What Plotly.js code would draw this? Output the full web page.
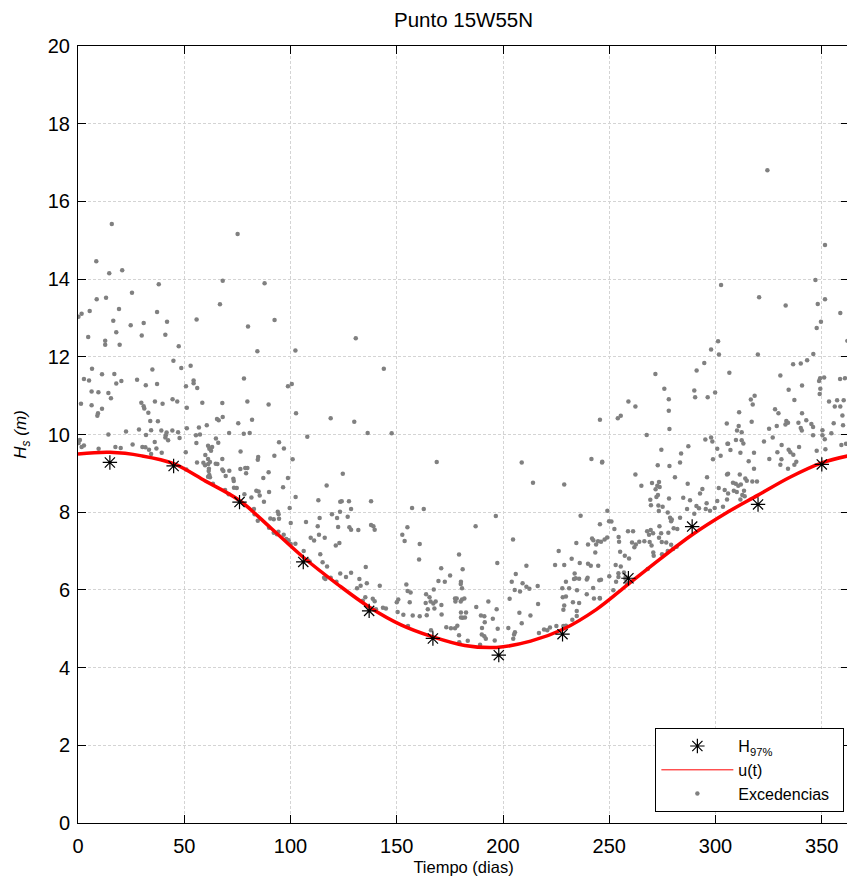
<!DOCTYPE html>
<html>
<head>
<meta charset="utf-8">
<script src="https://cdn.plot.ly/plotly-3.0.1.min.js"></script>
<style>
html,body{margin:0;padding:0;overflow:hidden;background:#fff;}
#chart{width:849px;height:880px;}
</style>
</head>
<body>
<div id="chart"></div>
<script>
// Monthly 97% quantile (asterisks)
const h97Day = [15, 45, 76, 106, 137, 167, 198, 228, 259, 289, 320, 350];
const h97Hs  = [9.28, 9.19, 8.26, 6.72, 5.46, 4.75, 4.32, 4.86, 6.30, 7.63, 8.20, 9.23];

// Threshold curve u(t)
const uDay = [0, 15, 30, 45, 60, 76, 91, 106, 122, 137, 152, 167, 182, 197, 213, 228, 244, 259, 274, 289, 305, 320, 335, 350, 365];
const uHs  = [9.50, 9.54, 9.45, 9.25, 8.80, 8.30, 7.58, 6.84, 6.15, 5.56, 5.10, 4.79, 4.57, 4.52, 4.68, 4.98, 5.50, 6.15, 6.80, 7.42, 7.98, 8.44, 8.90, 9.27, 9.48];

// Exceedances (grey dots)
const excDay = [
15.9,8.6,14.7,20.8,38.0,25.4,8.8,13.2,19.3,37.2,1.7,5.5,0.2,16.6,24.8,30.9,41.9,55.8,18.0,4.8,12.8,12.8,19.6,30.0,41.1,47.4,
44.9,48.6,53.0,6.6,11.3,17.1,35.0,2.8,5.2,20.4,18.0,27.8,31.9,37.2,50.8,54.4,54.4,56.1,6.4,9.6,14.3,15.5,1.4,6.4,11.3,9.4,9.1,29.8,30.9,31.2,36.2,39.8,44.5,46.7,51.2,58.5,33.1,34.0,37.6,51.2,56.9,60.6,22.6,28.7,34.4,39.2,41.7,41.3,41.1,42.4,44.4,47.1,47.8,14.3,32.0,36.1,55.5,57.4,55.7,0.9,0.3,2.8,1.7,9.7,17.6,20.1,25.7,30.3,31.7,33.4,36.9,34.4,39.4,50.7,59.9,51.0,56.0,59.0,59.8,61.3,61.5,61.8,61.2,
75.1,68.1,87.8,66.8,80.0,92.5,84.4,102.3,78.1,98.8,100.6,67.9,79.7,89.7,
102.6,118.9,65.4,66.2,68.1,75.4,81.9,71.1,78.0,80.8,107.9,64.9,66.0,61.8,62.6,63.1,76.5,94.6,96.9,84.8,84.6,92.4,101.0,61.2,62.1,64.8,65.6,67.9,61.6,67.9,68.4,71.2,76.4,78.7,79.7,89.7,61.2,62.1,69.5,73.1,73.3,79.1,87.2,98.8,63.5,73.4,74.7,69.2,83.9,85.0,89.9,96.5,117.0,70.9,78.3,81.6,85.5,102.4,87.5,123.4,113.1,82.8,83.1,94.0,94.4,99.6,84.6,90.5,92.1,94.6,100.1,107.3,113.7,119.5,121.9,112.8,122.4,89.9,92.1,93.6,94.3,96.8,98.0,99.1,100.1,102.3,109.5,111.1,113.4,116.1,121.3,123.0,106.2,114.0,115.1,117.2,108.1,109.0,115.8,116.4,118.9,123.4,121.6,
130.7,143.9,130.0,136.3,147.6,168.8,124.6,
124.1,127.5,137.9,128.5,157.2,162.7,123.3,126.9,127.7,128.5,131.9,137.9,139.0,139.6,155.0,152.6,153.7,160.8,160.5,179.3,135.4,170.9,181.0,126.1,128.5,132.4,135.9,175.1,180.2,180.1,180.7,169.6,172.6,154.5,142.0,131.3,133.0,155.1,156.5,167.4,163.8,165.4,135.2,138.7,139.6,134.0,150.7,150.0,156.1,163.6,165.9,167.2,168.3,171.0,177.6,178.2,180.1,180.7,181.8,177.4,143.5,144.9,140.2,150.4,153.1,157.5,160.8,164.1,164.6,171.1,167.7,180.2,182.6,180.2,181.0,182.1,155.3,173.3,175.5,177.4,178.5,166.1,179.3,179.4,183.4,
208.8,241.6,246.6,214.1,228.8,196.6,187.1,236.5,204.7,241.9,242.5,244.7,240.0,243.8,234.5,243.4,226.2,232.3,197.3,211.0,224.5,228.8,236.1,240.0,241.3,244.8,206.0,233.7,234.2,235.8,233.4,229.6,239.8,239.4,245.3,204.1,209.2,205.5,208.0,211.0,212.4,216.3,227.9,231.1,234.8,242.4,239.4,228.1,229.6,245.5,242.8,203.1,228.8,228.4,232.9,235.8,234.7,216.5,187.4,193.1,197.0,189.6,191.2,191.4,195.2,190.1,191.2,191.9,190.0,207.7,212.9,208.8,197.5,202.5,205.6,205.2,204.8,196.1,189.2,232.6,234.7,216.9,219.3,220.8,222.1,225.1,228.4,229.6,
302.6,301.2,297.9,301.6,294.7,291.1,306.5,271.7,275.9,290.0,290.4,278.0,296.3,299.8,259.0,262.3,278.0,254.0,255.4,245.6,305.3,278.3,267.6,295.2,297.9,
298.5,287.2,305.6,300.8,302.4,298.8,274.5,283.8,283.3,246.7,272.8,278.3,262.3,280.9,296.0,305.4,273.4,272.6,273.7,271.8,272.9,272.2,270.1,265.1,286.9,293.8,292.7,301.5,304.3,278.1,269.3,269.6,284.8,288.0,295.8,300.8,305.4,273.1,275.1,303.5,286.6,291.0,292.2,273.3,277.5,278.6,279.4,279.1,295.4,297.4,299.6,290.0,283.3,249.1,249.9,251.0,245.6,252.4,247.8,246.1,249.0,254.4,254.6,258.8,261.2,267.8,269.5,270.6,268.7,273.6,274.4,277.8,280.3,282.0,260.7,262.5,261.8,264.1,266.5,269.0,269.9,274.7,273.4,276.8,279.1,255.1,257.3,259.3,270.7,270.9,274.8,277.5,280.0,281.7,253.0,254.3,255.4,254.3,256.9,257.7,259.6,253.2,251.9,257.6,258.2,268.1,250.0,246.1,245.6,
324.4,351.5,347.0,320.5,333.0,348.1,351.5,358.7,349.6,347.6,362.0,319.9,336.5,340.1,343.1,346.0,
330.5,349.2,351.1,348.7,349.3,349.0,358.6,360.9,334.4,340.7,318.4,316.6,317.5,337.1,353.4,357.2,360.3,356.1,358.7,359.7,328.0,329.6,340.7,311.1,342.7,317.0,333.3,334.1,332.9,339.0,345.1,345.9,355.6,360.0,328.8,325.2,310.9,310.1,312.3,340.1,340.6,350.3,345.9,350.3,351.4,354.5,359.2,361.4,326.9,309.6,312.3,313.1,322.8,331.1,339.3,334.4,335.2,336.6,347.6,351.7,329.1,305.9,307.0,311.7,318.1,325.3,331.0,330.5,338.0,337.1,315.6,334.1,318.1,305.9,311.4,314.0,314.7,317.3,319.5,308.2,309.5,310.7,311.9,308.6,310.0,313.4,313.7,312.6,311.7,305.9
];
const excHs = [
15.42,14.46,14.15,14.23,13.87,13.65,13.48,13.52,13.23,13.15,13.11,13.18,13.03,12.93,12.81,12.87,12.90,12.96,12.63,12.51,12.41,12.31,12.31,12.55,12.57,12.27,
11.90,11.71,11.77,11.69,11.55,11.56,11.67,11.43,11.39,11.38,11.31,11.41,11.27,11.30,11.24,11.39,11.32,11.20,11.11,11.09,11.07,10.93,10.79,10.75,10.66,10.55,10.48,10.82,10.73,10.67,10.85,10.79,10.91,10.85,10.69,10.82,10.56,10.35,10.34,10.16,10.18,10.24,10.08,10.13,10.11,10.10,10.05,9.98,9.92,9.85,10.10,10.06,9.91,10.00,9.99,9.81,9.98,10.00,9.78,9.86,9.78,9.72,9.68,9.63,9.68,9.65,9.74,9.68,9.67,9.61,9.64,9.50,9.53,9.54,9.47,9.10,9.28,9.27,9.21,9.24,9.06,8.96,9.71,
15.16,13.96,13.89,13.35,12.78,12.95,12.14,12.16,11.44,11.24,11.30,10.81,10.85,10.77,
10.55,10.42,10.40,10.37,10.45,10.29,10.38,10.04,10.02,10.04,9.94,9.90,9.79,9.63,9.58,9.68,9.56,9.80,9.64,9.42,9.35,9.45,9.36,9.37,9.29,9.25,9.24,9.37,9.12,9.10,9.06,9.07,9.11,9.14,9.14,9.03,8.91,8.90,8.93,8.86,8.80,9.00,8.88,8.88,8.73,8.63,8.62,8.57,8.55,8.53,8.52,8.64,8.69,8.46,8.46,8.38,8.43,8.39,8.27,8.27,8.31,8.08,7.95,8.01,7.95,8.11,7.78,7.84,7.82,7.83,7.72,7.75,7.85,7.95,7.85,7.64,7.62,7.60,7.47,7.43,7.50,7.42,7.31,7.28,7.18,7.19,7.34,7.27,7.42,7.34,7.14,7.21,7.00,6.92,6.71,6.60,6.77,6.73,6.31,6.28,6.31,6.42,6.21,
12.48,11.69,10.33,10.04,10.03,9.29,8.99,
8.28,8.28,8.28,8.08,8.11,8.08,8.01,7.88,7.61,7.55,7.54,7.67,7.64,7.55,7.61,7.42,7.26,7.18,6.78,6.91,6.59,6.56,6.53,6.33,6.44,6.28,6.17,6.37,6.21,6.15,6.04,6.23,6.21,6.14,6.11,6.04,6.11,5.97,5.93,6.01,5.89,5.81,5.81,5.77,5.71,5.72,5.75,5.68,5.68,5.66,5.70,5.65,5.70,5.61,5.70,5.78,5.70,5.75,5.78,5.78,5.54,5.52,5.50,5.43,5.36,5.34,5.32,5.35,5.50,5.37,5.52,5.42,5.42,5.29,5.28,5.29,5.07,5.04,5.01,5.01,5.08,4.96,4.83,4.65,4.69,
9.28,9.37,9.28,8.76,8.71,7.90,7.64,7.91,7.30,7.32,7.28,7.25,7.17,7.17,7.21,6.96,7.00,6.80,6.69,6.62,6.64,6.64,6.69,6.67,6.62,6.62,6.41,6.42,6.30,6.29,6.28,6.21,6.31,6.27,6.25,6.21,6.17,6.00,5.96,6.08,6.03,6.10,6.04,6.04,5.99,6.05,5.89,5.81,5.83,5.79,5.78,5.77,5.60,5.49,5.68,5.66,5.46,5.64,5.56,5.70,5.50,5.34,5.32,5.17,5.26,5.02,4.81,4.74,4.85,5.41,5.34,5.14,5.00,5.02,4.91,4.85,4.74,4.70,4.59,5.23,5.33,4.89,4.98,4.96,5.03,5.07,5.07,5.08,
13.85,12.40,12.19,12.06,11.84,11.65,11.59,11.56,11.18,11.13,10.96,10.91,10.96,11.08,10.85,10.72,10.61,10.42,10.48,10.38,10.28,10.14,9.99,9.87,9.92,
9.82,9.70,9.76,9.63,9.45,9.36,9.61,9.51,9.28,9.30,9.21,9.19,8.97,8.90,8.90,8.97,8.78,8.68,8.65,8.59,8.44,8.39,8.75,8.68,8.73,8.60,8.48,8.62,8.57,8.35,8.32,8.18,8.37,8.31,8.23,8.29,8.33,8.17,8.14,8.14,8.08,8.16,8.10,8.03,7.99,7.86,7.81,7.77,8.08,8.04,8.11,7.96,7.86,8.04,7.77,7.76,7.69,7.57,7.30,7.24,7.35,7.36,7.24,7.51,7.51,7.51,7.54,7.46,7.42,7.64,7.46,7.47,7.59,7.57,7.22,7.17,7.10,7.24,7.25,7.23,7.14,7.23,7.34,7.22,7.16,6.98,6.88,6.81,6.96,6.88,6.92,7.00,7.05,7.11,6.64,6.43,6.60,6.33,6.45,6.34,6.21,6.21,5.99,6.29,6.17,6.54,6.35,6.26,5.78,
16.80,14.88,13.98,13.53,13.32,13.36,13.48,13.13,12.90,12.74,12.41,12.06,11.81,11.83,11.91,12.07,
11.52,11.45,11.47,11.38,11.18,11.04,11.43,11.45,11.15,11.26,11.00,10.90,10.77,10.89,10.85,10.88,10.88,10.72,10.72,10.49,10.65,10.55,10.55,10.57,10.37,10.33,10.35,10.30,10.26,10.30,10.27,10.19,10.29,10.24,10.22,10.15,10.22,10.10,10.06,10.17,10.10,10.11,9.98,9.98,9.88,10.03,9.73,9.76,9.92,9.86,9.85,9.77,9.82,9.73,9.68,9.61,9.54,9.48,9.58,9.62,9.54,9.76,9.60,9.53,9.53,9.37,9.36,9.22,9.30,9.22,9.31,9.12,9.12,8.99,8.97,8.87,8.81,8.79,8.79,8.76,8.73,8.68,8.71,8.55,8.52,8.55,8.41,8.44,8.33,8.48
];

const xTicks = [0, 50, 100, 150, 200, 250, 300, 350];
const yTicks = [0, 2, 4, 6, 8, 10, 12, 14, 16, 18, 20];

const FONT = 'Liberation Sans, Arial, Helvetica, sans-serif';

const traces = [
  {
    x: excDay, y: excHs, type: 'scatter', mode: 'markers', name: 'Excedencias&nbsp;&nbsp;',
    marker: {color: '#808080', size: 4.5}, legendrank: 3
  },
  {
    // thin copy of u(t): gives the thin legend sample, hidden under the thick curve
    x: uDay, y: uHs, type: 'scatter', mode: 'lines', name: 'u(t)',
    line: {color: '#ff0000', width: 1, shape: 'spline', smoothing: 1}, legendrank: 2
  },
  {
    x: uDay, y: uHs, type: 'scatter', mode: 'lines', name: 'u(t)', showlegend: false,
    line: {color: '#ff0000', width: 3.5, shape: 'spline', smoothing: 1}
  },
  {
    x: h97Day, y: h97Hs, type: 'scatter', mode: 'markers', name: 'H<sub>97%</sub>',
    marker: {symbol: 'asterisk-open', size: 12, color: '#000', line: {color: '#000', width: 1.2}}, legendrank: 1
  }
];

const axisCommon = {
  showline: true, linecolor: '#000', linewidth: 1, mirror: 'ticks',
  ticks: 'inside', ticklen: 8, tickcolor: '#000', tickwidth: 1,
  showgrid: true, gridcolor: '#d4d4d4', gridwidth: 1, griddash: '3px,2px',
  zeroline: false, tickfont: {family: FONT, size: 20, color: '#000'}
};

const layout = {
  width: 849, height: 880,
  margin: {l: 78, r: 0, t: 46, b: 57},
  paper_bgcolor: '#fff', plot_bgcolor: '#fff',
  font: {family: FONT, color: '#000'},
  showlegend: true,
  title: {text: 'Punto 15W55N', font: {family: FONT, size: 20.5, color: '#000'},
          xref: 'paper', x: 0.5, xanchor: 'center', yref: 'container', y: 0.977, yanchor: 'middle'},
  xaxis: Object.assign({}, axisCommon, {
    range: [0, 362.8], tickvals: xTicks, ticktext: xTicks.map(String), ticklabelstandoff: 5,
    title: {text: 'Tiempo (dias)', font: {family: FONT, size: 16.5, color: '#000'}, standoff: 5}
  }),
  yaxis: Object.assign({}, axisCommon, {
    range: [0, 20], tickvals: yTicks, ticktext: yTicks.map(String), ticklabelstandoff: 3,
    title: {text: '<i>H<sub>s</sub> (m)</i>', font: {family: FONT, size: 17, color: '#000'}, standoff: 16}
  }),
  legend: {
    x: 0.994, xanchor: 'right', y: 0.014, yanchor: 'bottom',
    bgcolor: '#fff', bordercolor: '#000', borderwidth: 1,
    font: {family: FONT, size: 16, color: '#000'},
    itemwidth: 72, tracegroupgap: 0
  }
};

Plotly.newPlot('chart', traces, layout, {displayModeBar: false, staticPlot: true});
</script>
</body>
</html>
